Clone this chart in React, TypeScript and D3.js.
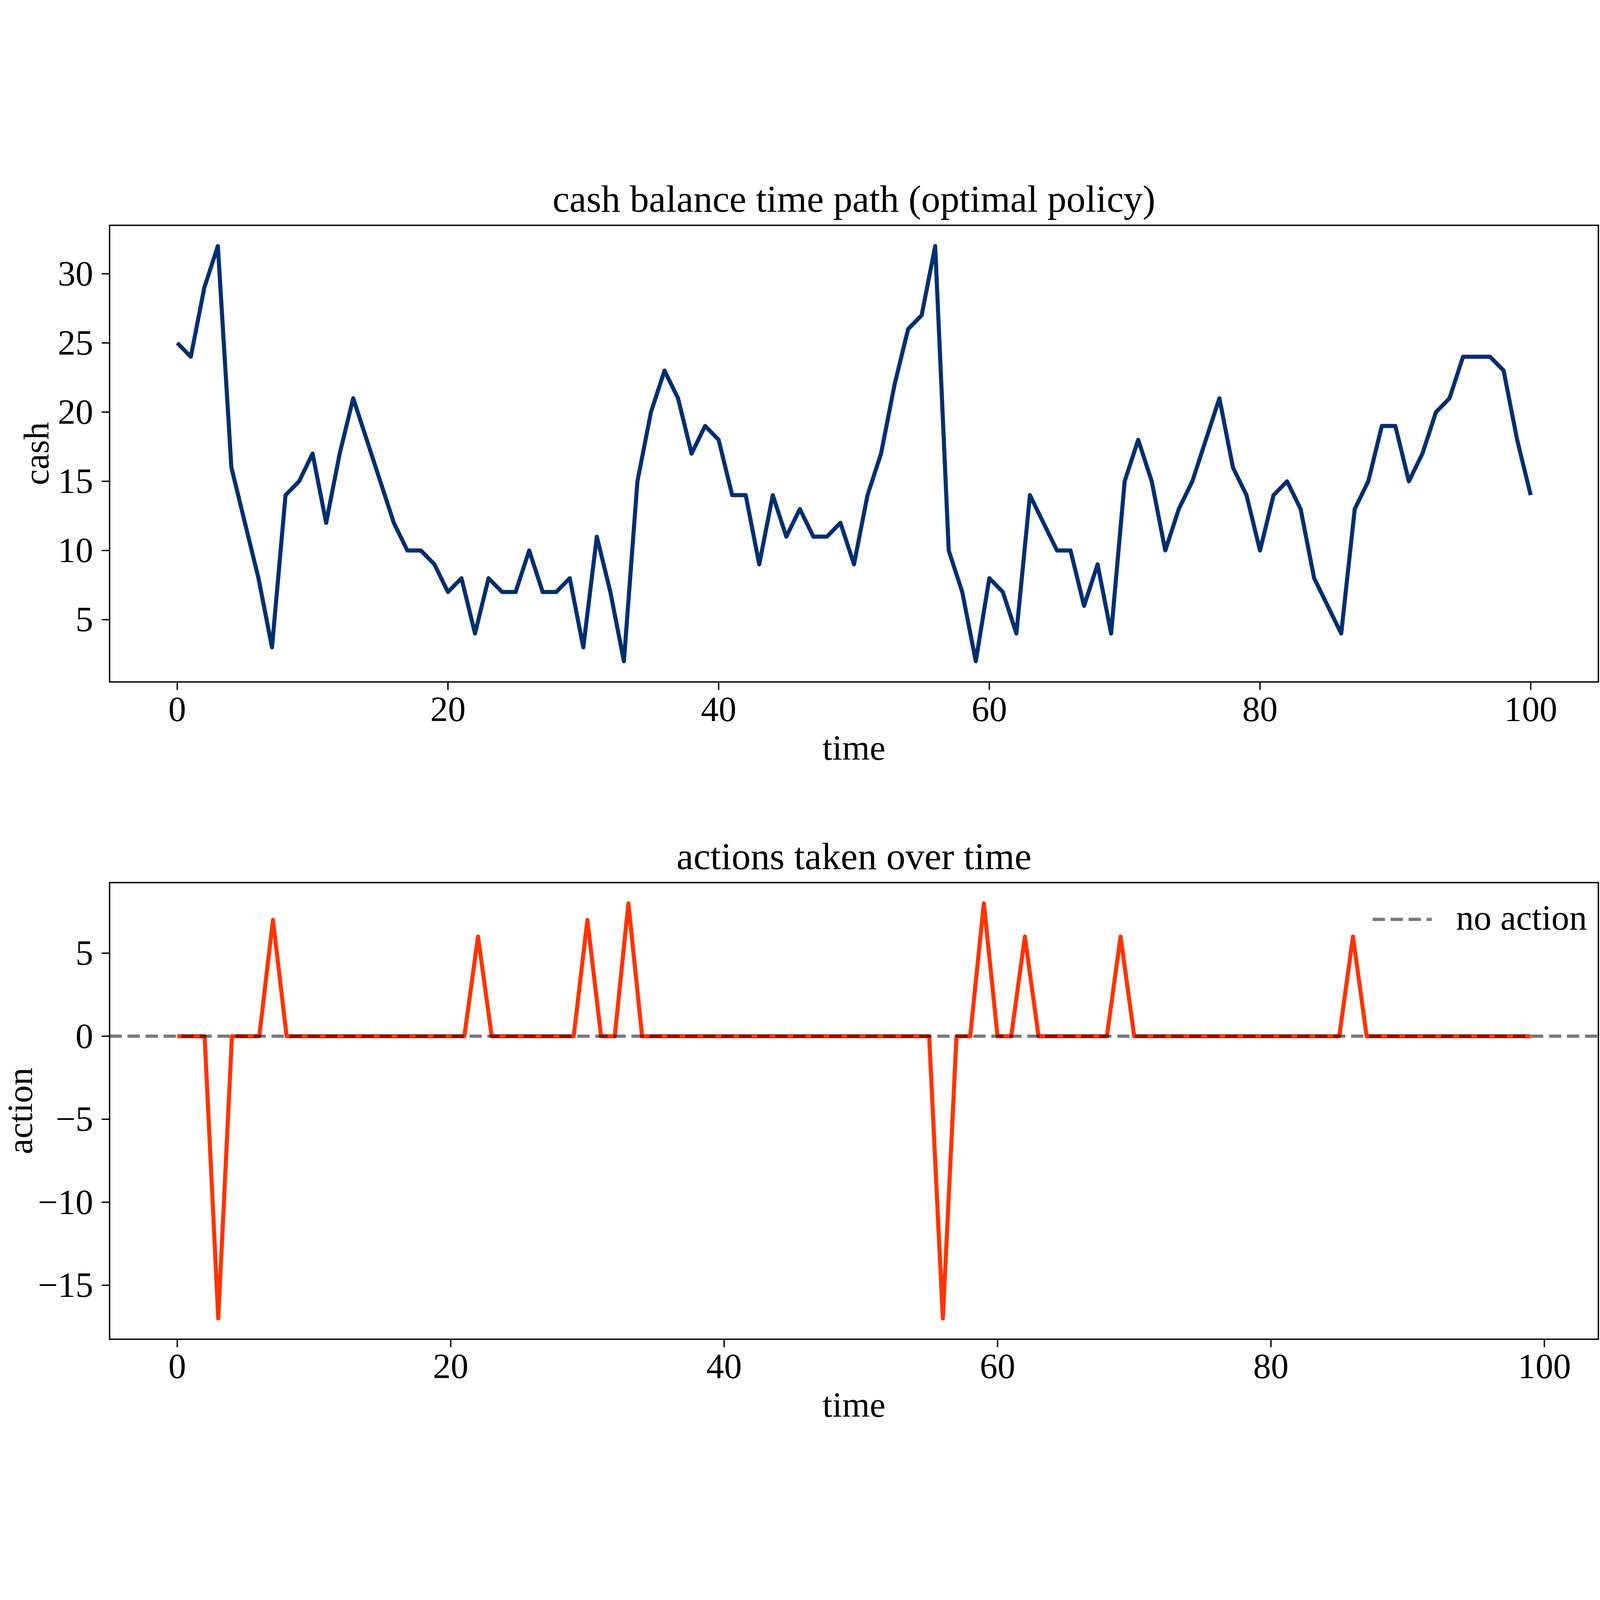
import { useEffect } from 'react';
import * as d3 from 'd3';

const W = 5869;
const H = 4526;

// cash balance, t = 0..100
const cash = [
  25, 24, 29, 32, 16, 12, 8, 3, 14, 15, 17, 12, 17, 21, 18, 15, 12, 10, 10, 9,
  7, 8, 4, 8, 7, 7, 10, 7, 7, 8, 3, 11, 7, 2, 15, 20, 23, 21, 17, 19,
  18, 14, 14, 9, 14, 11, 13, 11, 11, 12, 9, 14, 17, 22, 26, 27, 32, 10, 7, 2,
  8, 7, 4, 14, 12, 10, 10, 6, 9, 4, 15, 18, 15, 10, 13, 15, 18, 21, 16, 14,
  10, 14, 15, 13, 8, 6, 4, 13, 15, 19, 19, 15, 17, 20, 21, 24, 24, 24, 23, 18,
  14,
];

// action taken, t = 0..99 (non-zero entries only listed)
const actionTimes = [3, 7, 22, 30, 33, 56, 59, 62, 69, 86];
const actionValues = [-17, 7, 6, 7, 8, -17, 8, 6, 6, 6];
const actions = d3.range(100).map((t) => {
  const i = actionTimes.indexOf(t);
  return i >= 0 ? actionValues[i] : 0;
});

const xTicks = [0, 20, 40, 60, 80, 100];
const cashTicks = [5, 10, 15, 20, 25, 30];
const actionTicks = [-15, -10, -5, 0, 5];

const FONT = '"Liberation Serif", "DejaVu Serif", serif';
const FS = 130;
const LEFT = 402;
const RIGHT = 5863;
const fmt = (v: number) => (v < 0 ? `\u2212${Math.abs(v)}` : `${v}`);

type Scale = d3.ScaleLinear<number, number>;

function Panel({
  top,
  bottom,
  xDomain,
  yDomain,
  yTicks,
  title,
  ylabel,
  ylabelX,
  children,
}: {
  top: number;
  bottom: number;
  xDomain: [number, number];
  yDomain: [number, number];
  yTicks: number[];
  title: string;
  ylabel: string;
  ylabelX: number;
  children: (x: Scale, y: Scale) => any;
}) {
  const x = d3.scaleLinear().domain(xDomain).range([LEFT, RIGHT]);
  const y = d3.scaleLinear().domain(yDomain).range([bottom, top]);
  const cy = (top + bottom) / 2;
  return (
    <g fontFamily={FONT} fontSize={FS} fill="#000">
      <defs>
        <clipPath id={`clip-${top}`}>
          <rect x={LEFT} y={top} width={RIGHT - LEFT} height={bottom - top} />
        </clipPath>
      </defs>
      <g clipPath={`url(#clip-${top})`}>{children(x, y)}</g>
      <rect x={LEFT} y={top} width={RIGHT - LEFT} height={bottom - top} fill="none" stroke="#000" strokeWidth={5} />
      {xTicks.map((t) => (
        <g key={t}>
          <line x1={x(t)} x2={x(t)} y1={bottom} y2={bottom + 29} stroke="#000" strokeWidth={5} />
          <text x={x(t)} y={bottom + 143} textAnchor="middle">
            {t}
          </text>
        </g>
      ))}
      {yTicks.map((t) => (
        <g key={t}>
          <line x1={LEFT - 29} x2={LEFT} y1={y(t)} y2={y(t)} stroke="#000" strokeWidth={5} />
          <text x={342} y={y(t)} dy="0.33em" textAnchor="end">
            {fmt(t)}
          </text>
        </g>
      ))}
      <text x={(LEFT + RIGHT) / 2} y={bottom + 285} textAnchor="middle">
        time
      </text>
      <text transform={`translate(${ylabelX},${cy}) rotate(-90)`} textAnchor="middle">
        {ylabel}
      </text>
      <text x={(LEFT + RIGHT) / 2} y={top - 50} textAnchor="middle" fontSize={FS + 10}>
        {title}
      </text>
    </g>
  );
}

export default function App() {
  useEffect(() => {
    document.body.style.margin = '0';
  }, []);

  const makeLine = (x: Scale, y: Scale) =>
    d3
      .line<number>()
      .x((_, i) => x(i))
      .y((d) => y(d));

  return (
    <svg
      viewBox={`0 0 ${W} ${H}`}
      style={{ display: 'block', width: '100vw', height: '100vh', background: '#fff' }}
    >
      <rect width={W} height={H} fill="#fff" />
      <Panel
        top={155}
        bottom={1830}
        xDomain={[-5, 105]}
        yDomain={[0.5, 33.5]}
        yTicks={cashTicks}
        title="cash balance time path (optimal policy)"
        ylabel="cash"
        ylabelX={178}
      >
        {(x, y) => (
          <path
            d={makeLine(x, y)(cash) ?? ''}
            fill="none"
            stroke="#002f70"
            strokeWidth={15}
            strokeLinejoin="round"
          />
        )}
      </Panel>
      <Panel
        top={2566}
        bottom={4241}
        xDomain={[-4.95, 103.95]}
        yDomain={[-18.25, 9.25]}
        yTicks={actionTicks}
        title="actions taken over time"
        ylabel="action"
        ylabelX={118}
      >
        {(x, y) => (
          <g>
            <path
              d={makeLine(x, y)(actions) ?? ''}
              fill="none"
              stroke="#ff3300"
              strokeWidth={15}
              strokeLinejoin="round"
            />
            <line
              x1={LEFT}
              x2={RIGHT}
              y1={y(0)}
              y2={y(0)}
              stroke="#000"
              strokeOpacity={0.53}
              strokeWidth={12}
              strokeDasharray="45 21"
            />
          </g>
        )}
      </Panel>
      <g fontFamily={FONT} fontSize={FS}>
        <line x1={5035} x2={5252} y1={2701} y2={2701} stroke="#000" strokeOpacity={0.53} strokeWidth={12} strokeDasharray="45 21" />
        <text x={5341} y={2739}>
          no action
        </text>
      </g>
    </svg>
  );
}
